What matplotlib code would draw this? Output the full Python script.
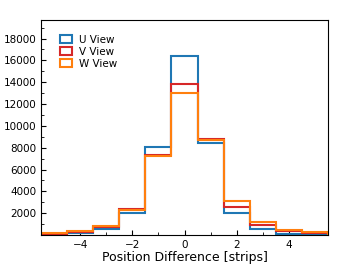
import numpy as np
import matplotlib
matplotlib.use("Agg")
import matplotlib.pyplot as plt
from matplotlib.ticker import MultipleLocator

plt.rcParams['font.family'] = ['DejaVu Sans']

positions = [-5, -4, -3, -2, -1, 0, 1, 2, 3, 4, 5]
u_view = [60, 180, 520, 2000, 8080, 16400, 8440, 2000, 520, 100, 50]
v_view = [120, 280, 700, 2340, 7370, 13850, 8810, 2610, 870, 400, 200]
w_view = [160, 380, 840, 2250, 7250, 13000, 8690, 3070, 1170, 500, 250]
labels = ["U View", "V View", "W View"]
colors = ["#1f77b4", "#d62728", "#ff7f0e"]
yticks = [2000, 4000, 6000, 8000, 10000, 12000, 14000, 16000, 18000]
xticks = [-4, -2, 0, 2, 4]

fig = plt.figure(figsize=(3.49, 2.76), dpi=100)
ax = fig.add_axes([0.1175, 0.1486, 0.8225, 0.7789])

bins = np.arange(-5.5, 6.0, 1.0)
for vals, lab, col in zip([u_view, v_view, w_view], labels, colors):
    ax.hist(positions, bins=bins, weights=vals, histtype='step', color=col,
            linewidth=1.5, label=lab)

ax.set_xlim(-5.5, 5.5)
ax.set_ylim(0, 19700)
ax.set_yticks(yticks)
ax.set_xticks(xticks)
ax.yaxis.set_minor_locator(MultipleLocator(1000))
ax.xaxis.set_minor_locator(MultipleLocator(1))
ax.tick_params(which='both', direction='in', labelsize=7.5)
ax.tick_params(which='major', length=3.5)
ax.tick_params(which='minor', length=2)
ax.set_xlabel("Position Difference [strips]", fontsize=9, labelpad=1)
ax.legend(loc='upper left', frameon=False, fontsize=7.5, handlelength=1.15,
          handleheight=0.8, handletextpad=0.6, labelspacing=0.2,
          bbox_to_anchor=(0.035, 0.975))

fig.savefig("out.png", dpi=100)
